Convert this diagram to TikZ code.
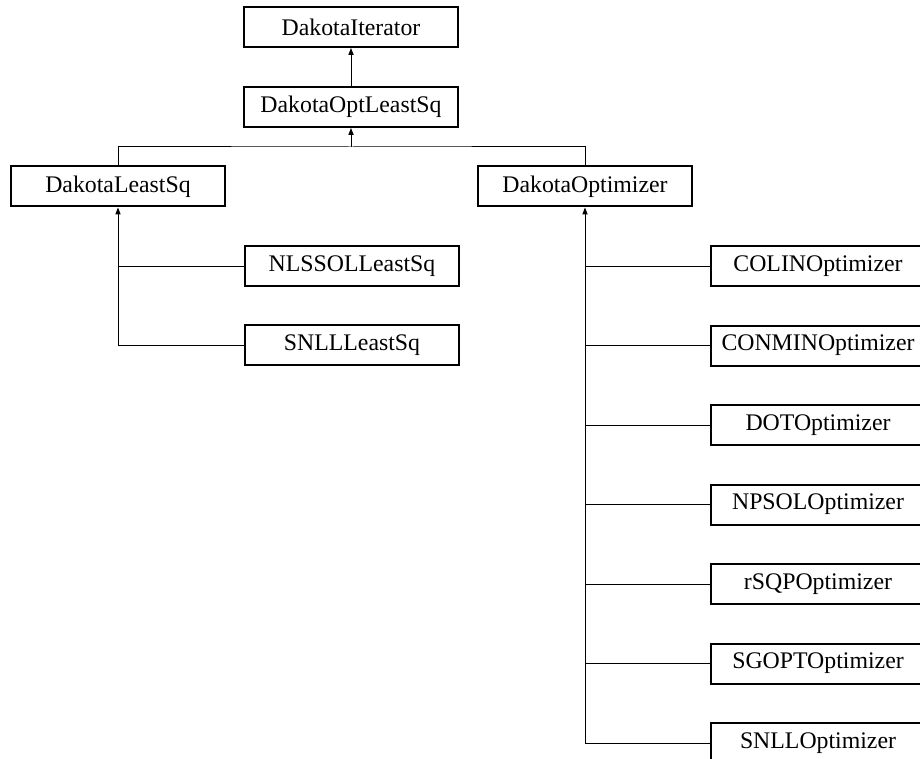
\documentclass[tikz,border=0pt]{standalone}
\usepackage{fontspec}
\setmainfont{Liberation Serif}
\usetikzlibrary{arrows.meta}

\tikzset{
  classbox/.style={draw=black, line width=1pt, fill=white, minimum width=107pt,
    minimum height=20pt, inner sep=0pt, font=\fontsize{11.9}{13}\selectfont},
  inh/.style={line width=0.5pt, -{Triangle[length=3.5pt,width=2.6pt]}},
  link/.style={line width=0.5pt}
}

\begin{document}
\begin{tikzpicture}[x=0.5pt, y=-0.5pt]
			%%%%% START %%%%%
			\useasboundingbox (0, 0) rectangle (920, 759);
			
			\node[classbox] (iter) at (351, 27) {DakotaIterator};
			\node[classbox] (optls) at (351, 107) {DakotaOptLeastSq};
			
			\node[classbox] (lsq) at (118, 186.5) {DakotaLeastSq};
			\node[classbox] (opt) at (585, 186.5) {DakotaOptimizer};
			
			\node[classbox] (nlssol) at (352, 266) {NLSSOLLeastSq};
			\node[classbox] (snlllsq) at (352, 345) {SNLLLeastSq};
			
			\node[classbox] (colin) at (818, 266) {COLINOptimizer};
			\node[classbox] (conmin) at (818, 345.5) {CONMINOptimizer};
			\node[classbox] (dot) at (818, 425) {DOTOptimizer};
			\node[classbox] (npsol) at (818, 504.5) {NPSOLOptimizer};
			\node[classbox] (rsqp) at (818, 584) {rSQPOptimizer};
			\node[classbox] (sgopt) at (818, 663.5) {SGOPTOptimizer};
			\node[classbox] (snllopt) at (818, 743) {SNLLOptimizer};
			
			% top of the tree
			\draw[inh] (optls.north) -- (iter.south);
			\coordinate (bus) at (351, 147);
			\draw[link] (lsq.north) |- (bus) -| (opt.north);
			\draw[inh] (bus) -- (optls.south);
			
			% least squares branch
			\draw[inh] (snlllsq.west) -| (lsq.south);
			\draw[link] (nlssol.west) -- (nlssol.west -| lsq.south);
			
			% optimizer branch
			\draw[inh] (snllopt.west) -| (opt.south);
			\foreach \kid in {colin, conmin, dot, npsol, rsqp, sgopt}
				\draw[link] (\kid.west) -- (\kid.west -| opt.south);
			
			%%%%% END %%%%%
\end{tikzpicture}
\end{document}
